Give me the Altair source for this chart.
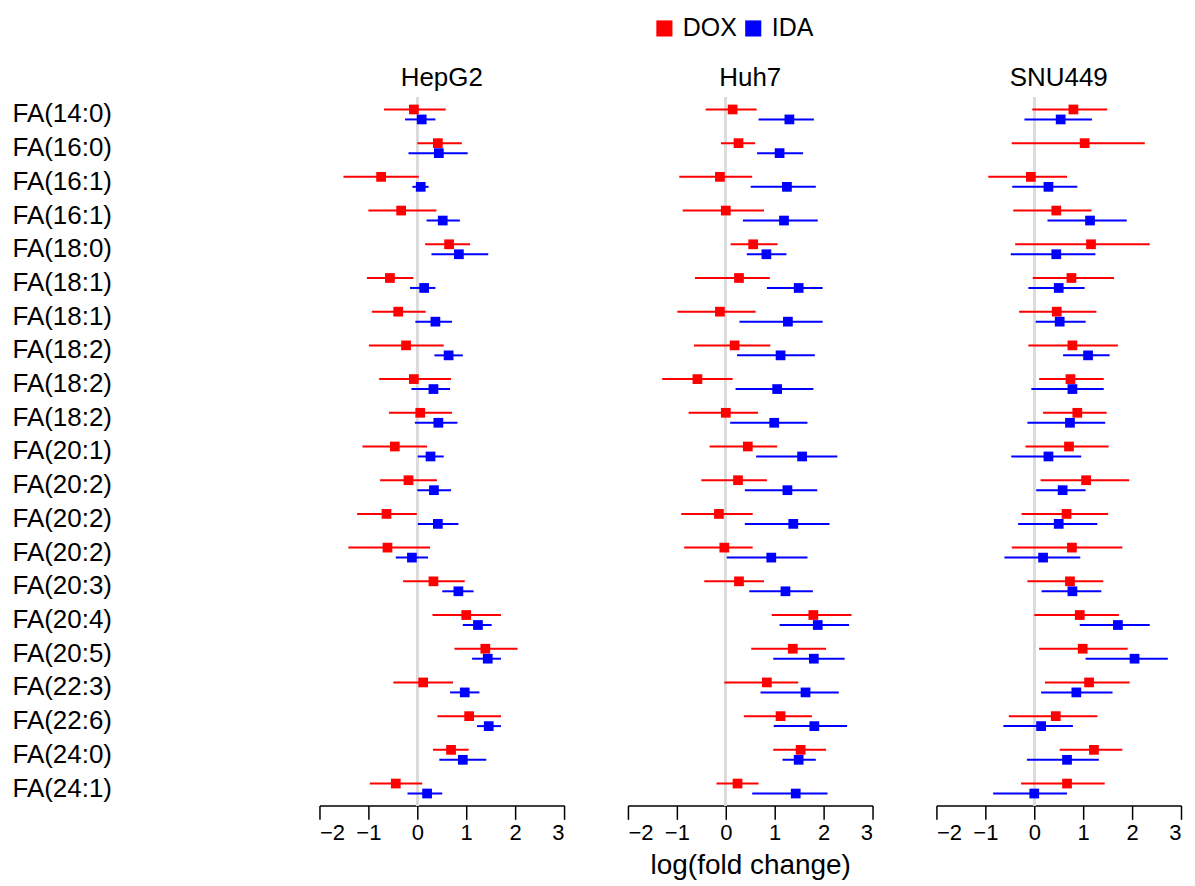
import altair as alt
import pandas as pd

labels = ["FA(14:0)", "FA(16:0)", "FA(16:1)", "FA(16:1)", "FA(18:0)", "FA(18:1)", "FA(18:1)",
          "FA(18:2)", "FA(18:2)", "FA(18:2)", "FA(20:1)", "FA(20:2)", "FA(20:2)", "FA(20:2)",
          "FA(20:3)", "FA(20:4)", "FA(20:5)", "FA(22:3)", "FA(22:6)", "FA(24:0)", "FA(24:1)"]

cells = ["HepG2", "Huh7", "SNU449"]
drugs = ["DOX", "IDA"]

# HepG2
hep_dox = [-0.07, 0.42, -0.74, -0.33, 0.65, -0.56, -0.39, -0.23, -0.07, 0.06, -0.46,
           -0.18, -0.63, -0.61, 0.33, 1.00, 1.39, 0.12, 1.06, 0.69, -0.44]
hep_dox_lo = [-0.68, 0.00, -1.51, -1.00, 0.16, -1.03, -0.93, -0.99, -0.78, -0.58, -1.12,
              -0.76, -1.23, -1.41, -0.29, 0.31, 0.76, -0.49, 0.41, 0.32, -0.97]
hep_dox_hi = [0.58, 0.91, 0.03, 0.39, 1.08, -0.08, 0.17, 0.54, 0.69, 0.71, 0.20,
              0.40, -0.01, 0.26, 0.97, 1.71, 2.05, 0.73, 1.71, 1.05, 0.10]
hep_ida = [0.09, 0.44, 0.07, 0.52, 0.85, 0.14, 0.37, 0.64, 0.33, 0.43, 0.27,
           0.34, 0.42, -0.11, 0.84, 1.24, 1.44, 0.97, 1.46, 0.93, 0.20]
hep_ida_lo = [-0.25, -0.18, -0.10, 0.19, 0.29, -0.15, -0.04, 0.35, -0.12, -0.05, 0.01,
              0.00, 0.01, -0.44, 0.51, 0.93, 1.12, 0.67, 1.22, 0.45, -0.20]
hep_ida_hi = [0.37, 1.03, 0.23, 0.87, 1.45, 0.37, 0.71, 0.93, 0.67, 0.82, 0.54,
              0.69, 0.84, 0.22, 1.15, 1.52, 1.71, 1.27, 1.71, 1.41, 0.51]

# Huh7
huh_dox = [0.14, 0.26, -0.12, 0.00, 0.56, 0.27, -0.12, 0.18, -0.58, 0.00, 0.45,
           0.25, -0.14, -0.03, 0.27, 1.79, 1.37, 0.84, 1.12, 1.53, 0.24]
huh_dox_lo = [-0.41, -0.10, -0.95, -0.88, 0.10, -0.63, -0.99, -0.65, -1.30, -0.76, -0.33,
              -0.50, -0.91, -0.85, -0.44, 0.94, 0.52, -0.03, 0.37, 0.97, -0.19]
huh_dox_hi = [0.63, 0.60, 0.54, 0.78, 1.06, 0.90, 0.61, 0.91, 0.14, 0.66, 1.05,
              0.84, 0.55, 0.55, 0.78, 2.57, 2.05, 1.48, 1.76, 2.05, 0.67]
huh_ida = [1.30, 1.10, 1.25, 1.19, 0.83, 1.49, 1.27, 1.12, 1.05, 0.99, 1.56,
           1.26, 1.38, 0.93, 1.22, 1.88, 1.80, 1.63, 1.81, 1.49, 1.43]
huh_ida_lo = [0.67, 0.64, 0.51, 0.35, 0.43, 0.84, 0.28, 0.23, 0.20, 0.09, 0.62,
              0.39, 0.39, 0.02, 0.48, 1.10, 0.97, 0.71, 0.98, 1.16, 0.54]
huh_ida_hi = [1.80, 1.58, 1.84, 1.88, 1.24, 1.98, 1.98, 1.82, 1.79, 1.67, 2.28,
              1.87, 2.12, 1.67, 1.78, 2.52, 2.43, 2.31, 2.48, 1.84, 2.08]

# SNU449
snu_dox = [0.80, 1.03, -0.07, 0.45, 1.16, 0.76, 0.46, 0.78, 0.74, 0.88, 0.71,
           1.06, 0.66, 0.77, 0.73, 0.93, 0.99, 1.12, 0.44, 1.22, 0.67]
snu_dox_lo = [-0.04, -0.46, -0.94, -0.43, -0.39, -0.03, -0.31, -0.12, 0.10, 0.18, -0.18,
              0.13, -0.26, -0.46, -0.14, 0.00, 0.10, 0.22, -0.52, 0.52, -0.27]
snu_dox_hi = [1.49, 2.26, 0.67, 1.17, 2.36, 1.63, 1.27, 1.71, 1.42, 1.48, 1.52,
              1.94, 1.51, 1.80, 1.41, 1.73, 1.91, 1.95, 1.29, 1.80, 1.44]
snu_ida = [0.54, None, 0.29, 1.14, 0.45, 0.50, 0.52, 1.10, 0.78, 0.73, 0.29,
           0.58, 0.50, 0.18, 0.78, 1.71, 2.05, 0.86, 0.14, 0.67, 0.00]
snu_ida_lo = [-0.20, None, -0.45, 0.27, -0.48, -0.12, 0.03, 0.59, -0.06, -0.14, -0.47,
              0.04, -0.33, -0.61, 0.15, 0.93, 1.05, 0.14, -0.63, -0.15, -0.84]
snu_ida_hi = [1.18, None, 0.88, 1.89, 1.25, 1.03, 1.05, 1.54, 1.42, 1.45, 0.96,
              1.05, 1.29, 0.94, 1.37, 2.36, 2.73, 1.60, 0.79, 1.32, 0.67]

series = {
    ("HepG2", "DOX"): (hep_dox, hep_dox_lo, hep_dox_hi),
    ("HepG2", "IDA"): (hep_ida, hep_ida_lo, hep_ida_hi),
    ("Huh7", "DOX"): (huh_dox, huh_dox_lo, huh_dox_hi),
    ("Huh7", "IDA"): (huh_ida, huh_ida_lo, huh_ida_hi),
    ("SNU449", "DOX"): (snu_dox, snu_dox_lo, snu_dox_hi),
    ("SNU449", "IDA"): (snu_ida, snu_ida_lo, snu_ida_hi),
}

records = []
for (cell, drug), (m, lo, hi) in series.items():
    for i in range(len(labels)):
        if m[i] is None:
            continue
        records.append({"cell": cell, "drug": drug, "row": i, "label": labels[i],
                        "mean": m[i], "lo": lo[i], "hi": hi[i]})
df = pd.DataFrame(records)

FONT = "Liberation Sans"
label_js = "[" + ",".join("'" + l + "'" for l in labels) + "]"

color = alt.Color("drug:N",
                  scale=alt.Scale(domain=drugs, range=["#ff0000", "#0000ff"]),
                  legend=alt.Legend(title=None, orient="none", direction="horizontal",
                                    legendX=333, legendY=-82, symbolType="square",
                                    symbolSize=260, symbolStrokeWidth=0, labelFontSize=25,
                                    labelFont=FONT, labelColor="black", columnPadding=3,
                                    labelOffset=6, padding=0))

xscale = alt.Scale(domain=[-2, 3], nice=False, zero=False)
yscale = alt.Scale(paddingInner=0, paddingOuter=0)
yoff = alt.YOffset("drug:N", scale=alt.Scale(domain=drugs, paddingInner=0, paddingOuter=0.69))


def panel(cell, first, middle):
    xaxis = alt.Axis(values=[-2, -1, 0, 1, 2, 3], tickSize=14, tickWidth=1.5, domainWidth=1.5,
                     domainColor="black", tickColor="black", labelColor="black",
                     labelFontSize=22, labelFont=FONT, labelPadding=3, grid=False,
                     title="log(fold change)" if middle else None,
                     titleFontSize=28, titleFontWeight="normal", titleFont=FONT,
                     titleColor="black", titlePadding=8)
    if first:
        yaxis = alt.Axis(domain=False, ticks=False, labelAlign="left", labelPadding=308,
                         labelFontSize=26, labelFont=FONT, labelColor="black", title=None,
                         labelExpr=label_js + "[datum.value]")
    else:
        yaxis = None
    base = alt.Chart(df).transform_filter(alt.datum.cell == cell)
    zero = alt.Chart(df).mark_rule(color="#dcdcdc", strokeWidth=2).encode(
        x=alt.X(datum=0, scale=xscale, axis=xaxis))
    bars = base.mark_rule(strokeWidth=2).encode(
        x=alt.X("lo:Q", scale=xscale, axis=xaxis),
        x2="hi:Q",
        y=alt.Y("row:O", scale=yscale, axis=yaxis),
        yOffset=yoff,
        color=color)
    pts = base.mark_square(size=95, opacity=1).encode(
        x=alt.X("mean:Q", scale=xscale, axis=xaxis),
        y=alt.Y("row:O", scale=yscale, axis=yaxis),
        yOffset=yoff,
        color=color)
    return alt.layer(zero, bars, pts).properties(
        width=245, height=709,
        title=alt.TitleParams(cell, fontSize=26, fontWeight="normal", font=FONT,
                              color="black", offset=6))


chart = alt.hconcat(panel("HepG2", True, False), panel("Huh7", False, True),
                    panel("SNU449", False, False), spacing=64, bounds="flush").properties(
    padding={"left": 4, "top": 7, "right": 5, "bottom": 5}
).configure(font=FONT).configure_view(stroke=None, strokeWidth=0)

chart.save("out.html", embed_options={"renderer": "svg", "actions": False})
